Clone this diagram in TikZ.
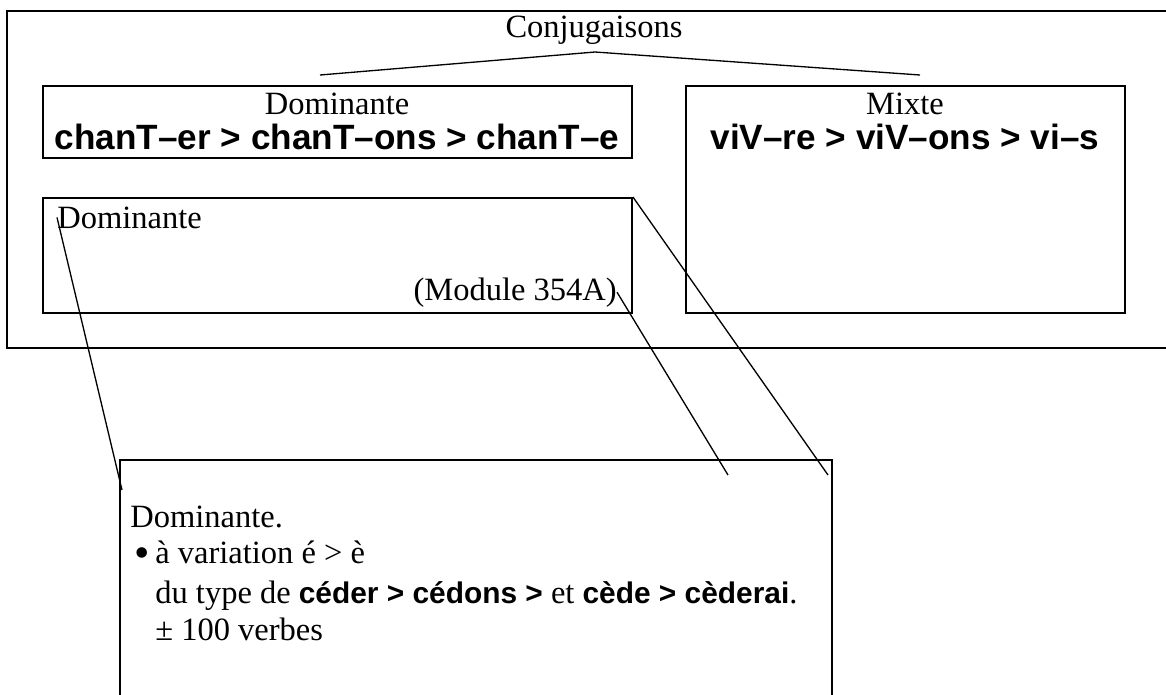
\documentclass[tikz,border=0pt]{standalone}
\usepackage{fontspec}
\setmainfont{Liberation Serif}
\setsansfont{Liberation Sans}
\usetikzlibrary{fit}

\begin{document}
\begin{tikzpicture}[x=0.02cm, y=-0.02cm,
    box/.style={draw, line width=1.1pt, inner sep=0pt, rectangle},
    txt/.style={inner sep=0pt, font=\fontsize{18.5}{22}\selectfont},
    bld/.style={inner sep=0pt, font=\fontsize{20}{24}\selectfont\sffamily\bfseries},
    link/.style={line width=0.75pt}]
        \useasboundingbox (0,0) rectangle (1166,694);

        % Outer frame, running off the right edge
        \node[box, fit={(7,11) (1190,348)}] (frame) {};

        % Title and its two branches
        \node[txt, anchor=base] (conj) at (594,37) {Conjugaisons};
        \coordinate (top) at (595,52);
        \coordinate (leftend) at (320,75);
        \coordinate (rightend) at (920,75);
        \draw[link] (leftend) -- (top) -- (rightend);

        % Boxes
        \node[box, fit={(43,86) (632,158)}] (domA) {};
        \node[box, fit={(686,86) (1125,313)}] (mix) {};
        \node[box, fit={(43,198) (632,313)}] (domB) {};
        \node[box, fit={(120,460) (832,720)}] (note) {};

        % Texts in the boxes
        \node[txt, anchor=base] (domAtitle) at (337,114) {Dominante};
        \node[bld, anchor=base] (domAforms) at (337,149) {chanT–er > chanT–ons > chanT–e};
        \node[txt, anchor=base] (mixtitle) at (905,114) {Mixte};
        \node[bld, anchor=base] (mixforms) at (905,149) {viV–re > viV–ons > vi–s};
        \node[txt, anchor=base west] (domBtitle) at (57,228) {Dominante};
        \node[txt, anchor=base east] (domBmod) at (617,300) {(Module 354A)};

        % Text of the note
        \node[txt, anchor=base west] (line1) at (130,527) {Dominante.};
        \node[inner sep=0pt, font=\fontsize{25}{25}\selectfont, anchor=base west] (bul) at (134,567) {•};
        \node[txt, anchor=base west] (line2) at (155,563) {à variation é > è};
        \node[txt, anchor=base west] (line3) at (155,603) {du type de {\fontsize{17}{20}\selectfont\sffamily\bfseries céder > cédons >} et {\fontsize{17}{20}\selectfont\sffamily\bfseries cède > cèderai}.};
        \node[txt, anchor=base west] (line4) at (155,640) {± 100 verbes};

        % Lines down to the note
        \coordinate (endA) at (122,490);
        \coordinate (endB) at (728,475);
        \coordinate (endC) at (828,475);
        \draw[link] (domBtitle.west) -- (endA);
        \draw[link] (domBmod.east) -- (endB);
        \draw[link] (domB.north east) -- (endC);
\end{tikzpicture}
\end{document}
